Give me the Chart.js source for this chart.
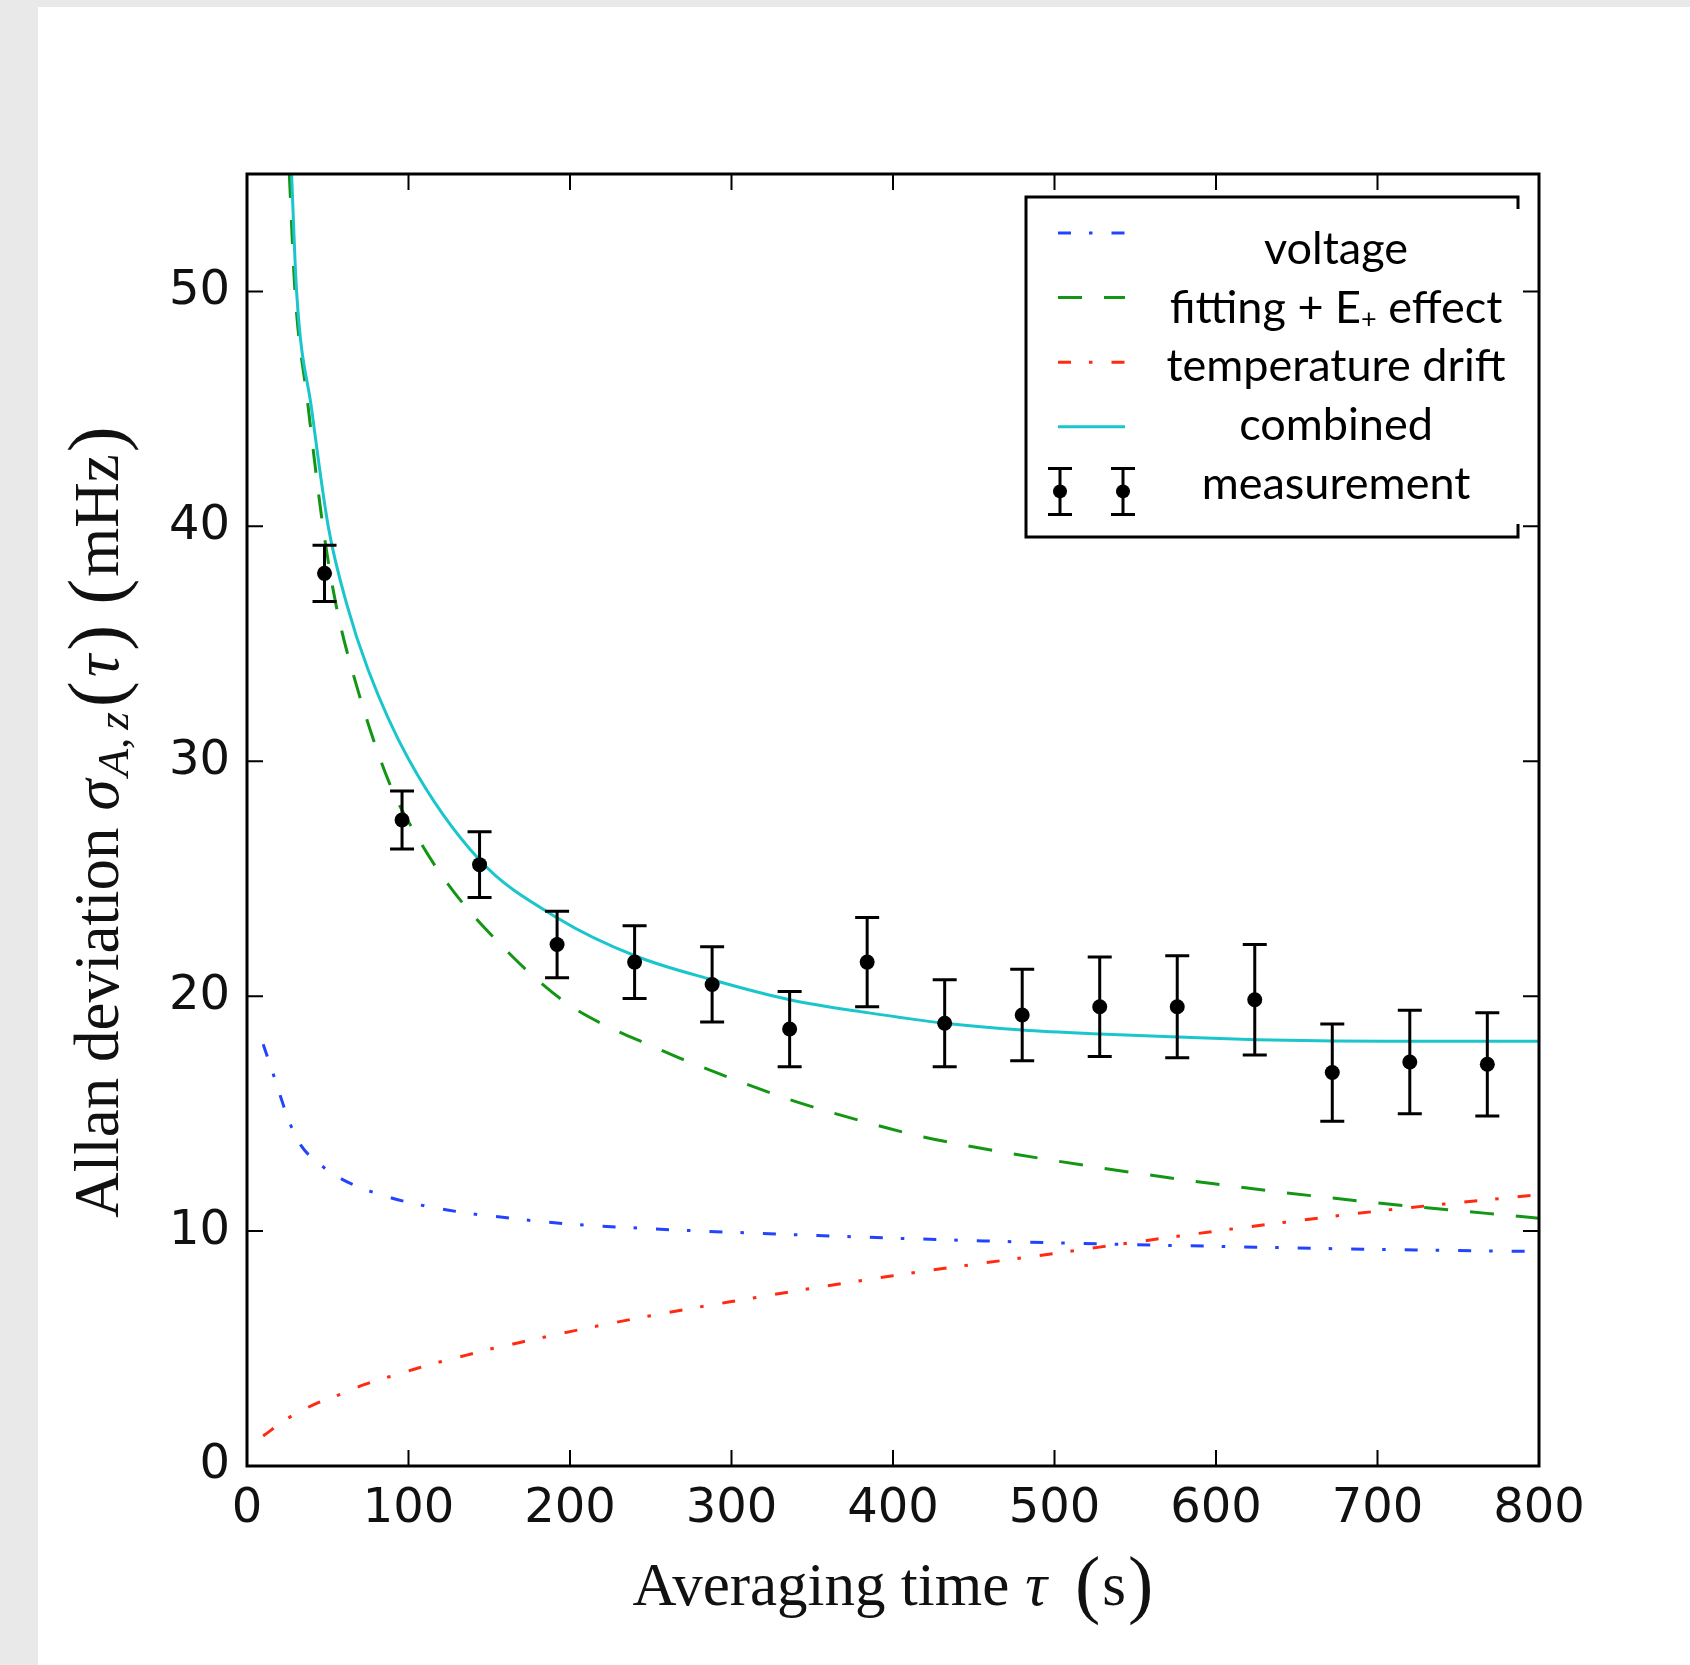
<!DOCTYPE html>
<html>
<head>
<meta charset="utf-8">
<script src="https://cdn.jsdelivr.net/npm/chart.js@4.4.1/dist/chart.umd.min.js"></script>
<style>
  html, body { margin: 0; padding: 0; background: #e9e9e9; }
  #page { position: absolute; left: 38px; top: 7px; width: 1652px; height: 1658px; background: #fff; }
  #wrap { position: absolute; left: 0; top: 0; width: 1690px; height: 1665px; }
</style>
</head>
<body>
<div id="page"></div>
<div id="wrap"><canvas id="allan" width="1690" height="1665"></canvas></div>
<script>
// measured Allan deviation, tau in s, sigma in mHz
const tauMeas = [48, 96, 144, 192, 240, 288, 336, 384, 432, 480, 528, 576, 624, 672, 720, 768];
const sigmaMeas = [38.0, 27.5, 25.6, 22.2, 21.45, 20.5, 18.6, 21.45, 18.85, 19.2, 19.55, 19.55, 19.85, 16.75, 17.2, 17.1];
const errMeas = [1.2, 1.23, 1.4, 1.42, 1.55, 1.6, 1.6, 1.9, 1.85, 1.95, 2.12, 2.17, 2.35, 2.07, 2.2, 2.2];

// model contributions
const tauVoltage = [10, 15.7, 20.8, 26.2, 33.4, 45, 59, 74, 90, 106, 124, 139, 157, 173, 200, 250, 300, 400, 500, 600, 700, 800];
const voltage = [17.95, 16.8, 15.72, 14.65, 13.65, 12.85, 12.2, 11.75, 11.4, 11.13, 10.9, 10.74, 10.6, 10.47, 10.3, 10.1, 9.95, 9.7, 9.5, 9.35, 9.22, 9.13];

const tauFitting = [26.2, 29.7, 37.5, 47, 55, 65, 88, 107, 122, 138, 157, 178, 200, 225, 250, 272, 300, 336, 385, 413, 441, 500, 600, 700, 800];
const fitting = [55, 50, 45.3, 40, 36.7, 33.9, 29.1, 26.6, 25.0, 23.6, 22.2, 20.8, 19.6, 18.65, 17.9, 17.25, 16.5, 15.6, 14.6, 14.1, 13.7, 13.0, 12.0, 11.2, 10.55];

const tauTemp = [10, 26, 41, 56.5, 72, 88, 104, 120, 136, 152, 169, 200, 250, 300, 400, 500, 600, 700, 800];
const temp = [1.28, 2.06, 2.6, 3.02, 3.45, 3.8, 4.13, 4.44, 4.72, 5.0, 5.26, 5.72, 6.4, 7.0, 8.1, 9.05, 10.0, 10.85, 11.55];

const tauCombined = [27.6, 30.7, 40, 50.3, 61.7, 75, 100, 144, 193, 241, 288, 336, 384, 432, 480, 528, 577, 625, 673, 720, 800];
const combined = [55, 50, 45.0, 40, 36.7, 33.9, 30.1, 25.8, 23.3, 21.7, 20.7, 19.85, 19.3, 18.85, 18.56, 18.39, 18.26, 18.15, 18.09, 18.08, 18.08];

const legendLabels = ['voltage', 'fitting + E', 'temperature drift', 'combined', 'measurement'];

const blue = '#2244ff';
const green = '#139613';
const red = '#ff2a10';
const cyan = '#1ac6cc';
const dashDot = [13, 18, 3.5, 19];
const dashed = [24, 22];

const sansTicks = '"DejaVu Sans", sans-serif';
const serif = '"Liberation Serif", "DejaVu Serif", serif';
const legendFont = 'Lato, "Open Sans", sans-serif';

function pts(xs, ys) {
    return xs.map((x, i) => ({ x: x, y: ys[i] }));
}

// error bars under the measurement dots
const errorBars = {
    id: 'errorBars',
    beforeDatasetDraw(chart, args) {
        if (args.index !== 0) return;
        const { ctx, scales: { x, y } } = chart;
        ctx.save();
        ctx.strokeStyle = '#000';
        ctx.lineWidth = 3;
        ctx.beginPath();
        tauMeas.forEach((t, i) => {
            const px = x.getPixelForValue(t);
            const top = y.getPixelForValue(sigmaMeas[i] + errMeas[i]);
            const bot = y.getPixelForValue(sigmaMeas[i] - errMeas[i]);
            ctx.moveTo(px, top); ctx.lineTo(px, bot);
            ctx.moveTo(px - 12, top); ctx.lineTo(px + 12, top);
            ctx.moveTo(px - 12, bot); ctx.lineTo(px + 12, bot);
        });
        ctx.stroke();
        ctx.restore();
    }
};

// box frame with inward ticks on all four sides
const frameTicks = {
    id: 'frameTicks',
    afterDatasetsDraw(chart) {
        const { ctx, chartArea: a, scales: { x, y } } = chart;
        ctx.save();
        ctx.strokeStyle = '#000';
        ctx.lineWidth = 2;
        ctx.beginPath();
        x.ticks.forEach(t => {
            const px = x.getPixelForValue(t.value);
            ctx.moveTo(px, a.bottom); ctx.lineTo(px, a.bottom - 16);
            ctx.moveTo(px, a.top); ctx.lineTo(px, a.top + 16);
        });
        y.ticks.forEach(t => {
            const py = y.getPixelForValue(t.value);
            ctx.moveTo(a.left, py); ctx.lineTo(a.left + 16, py);
            ctx.moveTo(a.right, py); ctx.lineTo(a.right - 16, py);
        });
        ctx.stroke();
        ctx.lineWidth = 3;
        ctx.strokeRect(a.left, a.top, a.width, a.height);
        ctx.restore();
    }
};

// legend box in the upper right corner
const legendBox = {
    id: 'legendBox',
    afterDraw(chart) {
        const { ctx, chartArea: a } = chart;
        const left = a.right - 513, top = a.top + 23, right = a.right - 21, bottom = a.top + 363;
        ctx.save();
        ctx.fillStyle = '#fff';
        ctx.fillRect(left, top, right - left, bottom - top);
        ctx.strokeStyle = '#000';
        ctx.lineWidth = 3;
        ctx.beginPath();
        ctx.moveTo(right, top + 12); ctx.lineTo(right, top); ctx.lineTo(left, top);
        ctx.lineTo(left, bottom); ctx.lineTo(right, bottom); ctx.lineTo(right, bottom - 13);
        ctx.stroke();

        const x0 = left + 32, x1 = left + 99;
        const styles = [
            { color: blue, dash: dashDot },
            { color: green, dash: dashed },
            { color: red, dash: dashDot },
            { color: cyan, dash: [] }
        ];
        styles.forEach((s, i) => {
            const yy = top + 36 + 64.6 * i;
            ctx.strokeStyle = s.color;
            ctx.lineWidth = 3;
            ctx.setLineDash(s.dash);
            ctx.beginPath();
            ctx.moveTo(x0, yy); ctx.lineTo(x1, yy);
            ctx.stroke();
        });
        ctx.setLineDash([]);
        // error bar handle
        const ym = top + 36 + 64.6 * 4;
        [x0 + 2, x1 - 2].forEach(px => {
            ctx.strokeStyle = '#000';
            ctx.lineWidth = 3;
            ctx.beginPath();
            ctx.moveTo(px, ym - 23); ctx.lineTo(px, ym + 23);
            ctx.moveTo(px - 12, ym - 23); ctx.lineTo(px + 12, ym - 23);
            ctx.moveTo(px - 12, ym + 23); ctx.lineTo(px + 12, ym + 23);
            ctx.stroke();
            ctx.fillStyle = '#000';
            ctx.beginPath();
            ctx.arc(px, ym, 7, 0, Math.PI * 2);
            ctx.fill();
        });

        // labels, centred in the text column
        const cx = left + 310;
        const main = '45px ' + legendFont, small = '27px ' + legendFont;
        ctx.fillStyle = '#000';
        ctx.textBaseline = 'alphabetic';
        legendLabels.forEach((lab, i) => {
            const base = top + 67 + 58.7 * i;
            ctx.font = main;
            if (i === 1) {
                const sub = '+', rest = ' effect';
                const w1 = ctx.measureText(lab).width;
                const w3 = ctx.measureText(rest).width;
                ctx.font = small;
                const w2 = ctx.measureText(sub).width;
                let xx = cx - (w1 + w2 + w3) / 2;
                ctx.textAlign = 'left';
                ctx.font = main;
                ctx.fillText(lab, xx, base);
                xx += w1;
                ctx.font = small;
                ctx.fillText(sub, xx, base + 5);
                xx += w2;
                ctx.font = main;
                ctx.fillText(rest, xx, base);
            } else {
                ctx.textAlign = 'center';
                ctx.fillText(lab, cx, base);
            }
        });
        ctx.restore();
    }
};

function drawPieces(ctx, pieces, cx, base) {
    let total = 0;
    pieces.forEach(p => {
        ctx.font = p.font;
        p.w = ctx.measureText(p.text).width;
        total += p.w + (p.gap || 0);
    });
    let xx = cx - total / 2;
    ctx.textAlign = 'left';
    ctx.textBaseline = 'alphabetic';
    pieces.forEach(p => {
        ctx.font = p.font;
        ctx.fillText(p.text, xx, base + (p.dy || 0));
        xx += p.w + (p.gap || 0);
    });
}

// LaTeX-like axis titles
const axisTitles = {
    id: 'axisTitles',
    afterDraw(chart) {
        const { ctx, chartArea: a } = chart;
        const rm = '61px ' + serif, it = 'italic 61px ' + serif, big = '76px ' + serif;
        ctx.save();
        ctx.fillStyle = '#111';
        drawPieces(ctx, [
            { text: 'Averaging time', font: rm, gap: 16 },
            { text: '\u03c4', font: it, gap: 28 },
            { text: '(', font: big, dy: 4, gap: 2 },
            { text: 's', font: rm, gap: 2 },
            { text: ')', font: big, dy: 4 }
        ], (a.left + a.right) / 2, 1605);

        const rmY = '63px ' + serif, itY = 'italic 63px ' + serif, bigY = '78px ' + serif;
        const sub = 'italic 45px ' + serif;
        ctx.translate(118, (a.top + a.bottom) / 2 + 2);
        ctx.rotate(-Math.PI / 2);
        drawPieces(ctx, [
            { text: 'Allan deviation', font: rmY, gap: 17 },
            { text: '\u03c3', font: itY, gap: 3 },
            { text: 'A,', font: sub, dy: 10, gap: 8 },
            { text: 'z', font: sub, dy: 10, gap: 5 },
            { text: '(', font: bigY, dy: 4, gap: 4 },
            { text: '\u03c4', font: itY, gap: 4 },
            { text: ')', font: bigY, dy: 4, gap: 20 },
            { text: '(', font: bigY, dy: 4, gap: 2 },
            { text: 'mHz', font: rmY, gap: 2 },
            { text: ')', font: bigY, dy: 4 }
        ], 0, 0);
        ctx.restore();
    }
};

const lineBase = { pointRadius: 0, borderWidth: 3, fill: false, cubicInterpolationMode: 'monotone' };

new Chart(document.getElementById('allan'), {
    type: 'line',
    data: {
        datasets: [
            {
                label: 'measurement',
                data: pts(tauMeas, sigmaMeas),
                showLine: false,
                pointRadius: 7.5,
                pointBackgroundColor: '#000',
                pointBorderColor: '#000',
                pointBorderWidth: 0,
                borderColor: '#000'
            },
            Object.assign({ label: 'combined', data: pts(tauCombined, combined), borderColor: cyan }, lineBase),
            Object.assign({ label: 'temperature drift', data: pts(tauTemp, temp), borderColor: red, borderDash: dashDot }, lineBase),
            Object.assign({ label: 'fitting + E+ effect', data: pts(tauFitting, fitting), borderColor: green, borderDash: dashed }, lineBase),
            Object.assign({ label: 'voltage', data: pts(tauVoltage, voltage), borderColor: blue, borderDash: dashDot }, lineBase)
        ]
    },
    options: {
        responsive: false,
        animation: false,
        devicePixelRatio: 1,
        layout: { padding: { top: 174, right: 151, left: 0, bottom: 0 } },
        plugins: {
            legend: { display: false },
            tooltip: { enabled: false }
        },
        scales: {
            x: {
                type: 'linear',
                min: 0,
                max: 800,
                afterFit: s => { s.height = 199; },
                grid: { display: false, drawTicks: false },
                border: { display: false },
                ticks: {
                    stepSize: 100,
                    includeBounds: false,
                    padding: 15,
                    color: '#111',
                    font: { family: sansTicks, size: 48 }
                }
            },
            y: {
                type: 'linear',
                min: 0,
                max: 55,
                afterFit: s => { s.width = 247; },
                grid: { display: false, drawTicks: false },
                border: { display: false },
                ticks: {
                    stepSize: 10,
                    includeBounds: false,
                    padding: 17,
                    color: '#111',
                    font: { family: sansTicks, size: 48 }
                }
            }
        }
    },
    plugins: [errorBars, frameTicks, legendBox, axisTitles]
});
</script>
</body>
</html>
